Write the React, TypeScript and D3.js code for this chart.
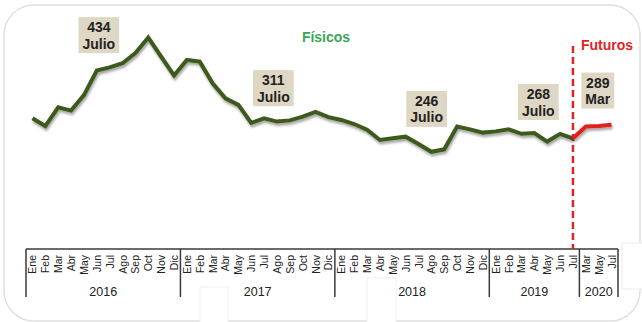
import React from "react";
import * as d3 from "d3";

const W = 642;
const H = 322;

// Categories (month labels grouped by year)
const years = ["2016", "2017", "2018", "2019", "2020"];
const monthsFull = ["Ene", "Feb", "Mar", "Abr", "May", "Jun", "Jul", "Ago", "Sep", "Oct", "Nov", "Dic"];
const months2019 = ["Ene", "Feb", "Mar", "Abr", "May", "Jun", "Jul"];
const months2020 = ["Mar", "May", "Jul"];
const monthsByYear = [monthsFull, monthsFull, monthsFull, months2019, months2020];

// Físicos series: Ene 2016 .. Jul 2019
const fisicos = [
  309, 290, 336, 328, 366, 426, 434, 444, 469, 507, 460, 414,
  452, 448, 395, 358, 342, 298, 309, 301, 304, 313, 325, 312,
  305, 295, 281, 256, 260, 264, 246, 227, 233, 289, 282, 274,
  277, 282, 271, 273, 252, 271, 260,
];

// Futuros series
const futurosKeys = ["2019-Jul", "2020-Mar", "2020-May", "2020-Jul"];
const futurosValues = [260, 289, 290, 293];

// Annotation labels (anchored in data coordinates: fractional category index, value)
const annValues = ["434", "311", "246", "268", "289"];
const annMonths = ["Julio", "Julio", "Julio", "Julio", "Mar"];
const annIndex = [5.16, 18.72, 30.63, 39.31, 43.93];
const annLevel = [513, 383, 332, 349, 377];

const FONT = "'Liberation Sans', Arial, Helvetica, sans-serif";

function measure(text: string, font: string): number {
  const c = document.createElement("canvas");
  const ctx = c.getContext("2d");
  if (!ctx) return text.length * 8;
  ctx.font = font;
  return ctx.measureText(text).width;
}

export default function App() {
  const categories: { key: string; year: string; month: string }[] = [];
  years.forEach((yr, yi) => {
    monthsByYear[yi].forEach((m) => categories.push({ key: `${yr}-${m}`, year: yr, month: m }));
  });

  const left = 26;
  const right = 618;
  const axisTop = 249;
  const axisBottom = 297;

  const xBand = d3
    .scaleBand<string>()
    .domain(categories.map((c) => c.key))
    .range([left, right])
    .padding(0);
  const bw = xBand.bandwidth();
  const xc = (k: string) => (xBand(k) as number) + bw / 2;
  const xIdx = d3.scaleLinear().domain([0, categories.length]).range([left, right]);

  const y = d3.scaleLinear().domain([200, 500]).range([162.8, 40.4]);

  const fisPts: [number, number][] = fisicos.map((v, i) => [xc(categories[i].key), y(v)]);
  const futPts: [number, number][] = futurosValues.map((v, i) => [xc(futurosKeys[i]), y(v)]);
  const line = d3.line<[number, number]>().x((d) => d[0]).y((d) => d[1]);

  // year groups
  const groups: { year: string; start: number; end: number }[] = [];
  let idx = 0;
  years.forEach((yr, yi) => {
    const n = monthsByYear[yi].length;
    groups.push({ year: yr, start: idx, end: idx + n });
    idx += n;
  });

  const divX = xc(futurosKeys[0]);
  const annFont = `bold 14px ${FONT}`;

  return (
    <svg
      width={W}
      height={H}
      style={{ position: "absolute", left: 0, top: 0, fontFamily: FONT }}
    >
      <defs>
        <filter id="shadow" x="-10%" y="-20%" width="120%" height="160%">
          <feDropShadow dx="1" dy="2.5" stdDeviation="1.3" floodColor="#000" floodOpacity="0.35" />
        </filter>
      </defs>
      <rect x={0} y={0} width={W} height={H} fill="#ffffff" />
      <rect x={4} y={5} width={636} height={316} rx={30} ry={30} fill="#fff" stroke="#e0e0e0" strokeWidth={1.5} />

      {/* faint artifact boxes */}
      <rect x={200} y={287} width={28} height={40} fill="#fff" stroke="#f0f0f0" strokeWidth={1} />
      <rect x={367} y={278} width={29} height={50} fill="#fff" stroke="#f0f0f0" strokeWidth={1} />
      <rect x={622} y={243} width={24} height={46} fill="#fff" stroke="#ececec" strokeWidth={1} />

      {/* Axis */}
      <line x1={left} x2={right} y1={axisTop} y2={axisTop} stroke="#3a3a3a" strokeWidth={1.5} />
      {[...groups.map((g) => g.start), categories.length].map((b, i) => (
        <line
          key={"d" + i}
          x1={xIdx(b)}
          x2={xIdx(b)}
          y1={axisTop}
          y2={axisBottom}
          stroke="#3a3a3a"
          strokeWidth={1.5}
        />
      ))}
      {categories.map((c) => (
        <text
          key={"m" + c.key}
          transform={`translate(${xc(c.key)},${axisTop + 6}) rotate(-90)`}
          textAnchor="end"
          dominantBaseline="central"
          fontSize={10.5}
          fill="#222"
        >
          {c.month}
        </text>
      ))}
      {groups.map((g) => (
        <text
          key={"y" + g.year}
          x={(xIdx(g.start) + xIdx(g.end)) / 2}
          y={291.5}
          textAnchor="middle"
          dominantBaseline="central"
          fontSize={12.5}
          fill="#222"
        >
          {g.year}
        </text>
      ))}

      {/* Divider */}
      <line
        x1={divX}
        x2={divX}
        y1={46}
        y2={axisTop}
        stroke="#e02424"
        strokeWidth={2.5}
        strokeDasharray="7,4"
      />

      {/* Lines */}
      <path
        d={line(fisPts) as string}
        fill="none"
        stroke="#3e5a1f"
        strokeWidth={4}
        strokeLinejoin="miter"
        filter="url(#shadow)"
      />
      <path
        d={line(futPts) as string}
        fill="none"
        stroke="#e0201f"
        strokeWidth={4}
        strokeLinejoin="miter"
        filter="url(#shadow)"
      />

      {/* Series labels */}
      <text x={326} y={37} textAnchor="middle" dominantBaseline="central" fontSize={14} fontWeight="bold" fill="#3aa655">
        Físicos
      </text>
      <text x={607} y={45} textAnchor="middle" dominantBaseline="central" fontSize={14} fontWeight="bold" fill="#e02424">
        Futuros
      </text>

      {/* Annotations */}
      {annValues.map((v, i) => {
        const cx = xIdx(annIndex[i] + 0.5);
        const cy = y(annLevel[i]);
        const tw = Math.max(measure(v, annFont), measure(annMonths[i], annFont));
        const bwid = tw + 8;
        const bh = 36;
        return (
          <g key={"a" + i}>
            <rect x={cx - bwid / 2} y={cy - bh / 2} width={bwid} height={bh} fill="#ddd7c3" />
            <text x={cx} y={cy - 8} textAnchor="middle" dominantBaseline="central" fontSize={14} fontWeight="bold" fill="#222">
              {v}
            </text>
            <text x={cx} y={cy + 8.5} textAnchor="middle" dominantBaseline="central" fontSize={14} fontWeight="bold" fill="#222">
              {annMonths[i]}
            </text>
          </g>
        );
      })}
    </svg>
  );
}
